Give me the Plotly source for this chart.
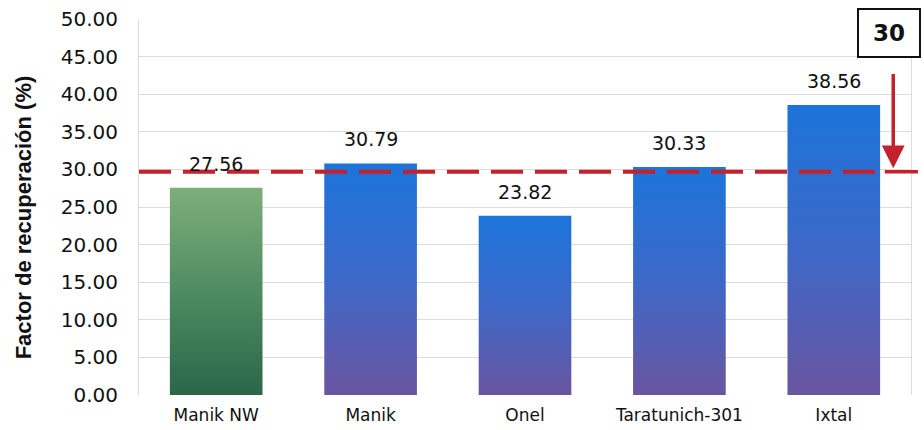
import plotly.graph_objects as go

categories = ["Manik NW", "Manik", "Onel", "Taratunich-301", "Ixtal"]
values = [27.56, 30.79, 23.82, 30.33, 38.56]
value_labels = ["27.56", "30.79", "23.82", "30.33", "38.56"]
threshold = 29.7
threshold_label = "30"
y_title = "Factor de recuperación (%)"
y_ticks = [0, 5, 10, 15, 20, 25, 30, 35, 40, 45, 50]

green_scale = [[0, "#2a6649"], [0.5, "#4f8c62"], [1, "#7eae7a"]]
blue_scale = [[0, "#6a55a0"], [0.5, "#3d68c8"], [1, "#1c74da"]]
bar_half = 0.3
FONT = "DejaVu Sans"
RED = "#c4212d"

fig = go.Figure()
for i, (cat, v) in enumerate(zip(categories, values)):
    scale = green_scale if i == 0 else blue_scale
    fig.add_trace(go.Scatter(
        x=[i - bar_half, i + bar_half, i + bar_half, i - bar_half, i - bar_half],
        y=[0, 0, v, v, 0],
        mode="lines", line=dict(width=0), fill="toself",
        fillgradient=dict(type="vertical", colorscale=scale),
        hoverinfo="skip", showlegend=False,
    ))

for i, (v, lab) in enumerate(zip(values, value_labels)):
    fig.add_annotation(x=i, y=v, text=lab, showarrow=False, yshift=24,
                       font=dict(family=FONT, size=19, color="#111111"))

# dashed threshold line
fig.add_shape(type="line", xref="paper", yref="y", x0=0, x1=0.958,
              y0=threshold, y1=threshold,
              line=dict(color=RED, width=4, dash="32px,12px"), layer="above")
# solid tick at the right
fig.add_shape(type="line", xref="paper", yref="y", x0=0.966, x1=1.009,
              y0=threshold, y1=threshold,
              line=dict(color=RED, width=3.5), layer="above")
# arrow from box to line
fig.add_annotation(xref="x domain", yref="y", x=0.977, y=threshold + 0.45,
                   ax=0.977, ay=42.9, axref="x domain", ayref="y",
                   showarrow=True, arrowhead=2, arrowsize=1.3, arrowwidth=3.5,
                   arrowcolor=RED, text="")
# boxed label
fig.add_annotation(xref="paper", yref="paper", x=0.9715, y=0.962, yanchor="middle",
                   xanchor="center",
                   text="<b>" + threshold_label + "</b>", showarrow=False,
                   font=dict(family=FONT, size=23, color="#111111"),
                   bordercolor="#111111", borderwidth=2, bgcolor="white",
                   borderpad=0, width=60, height=46)
# y-axis title
fig.add_annotation(xref="paper", yref="paper", x=-0.150, y=0.473,
                   xanchor="center", yanchor="middle", textangle=-90,
                   text="<b>" + y_title + "</b>", showarrow=False,
                   font=dict(family="Liberation Sans", size=22, color="#111111"))

fig.update_layout(
    width=924, height=430,
    margin=dict(l=139, r=13, t=19, b=35, autoexpand=False),
    plot_bgcolor="white", paper_bgcolor="white",
    font=dict(family=FONT, color="#111111"),
    xaxis=dict(range=[-0.5, 4.5], tickmode="array", tickvals=list(range(len(categories))),
               ticktext=categories, showgrid=False, zeroline=False, automargin=False,
               tickfont=dict(size=17), showline=False, ticks="", ticklabelstandoff=8),
    yaxis=dict(range=[0, 50], tickmode="array", tickvals=y_ticks,
               ticktext=[f"{t:.2f}" for t in y_ticks], automargin=False,
               tickfont=dict(size=20), gridcolor="#dcdcdc", gridwidth=1,
               zeroline=False, showline=True, linecolor="#dcdcdc", mirror=True,
               ticks="", ticklabelstandoff=16),
)
fig.write_html("out.html")
